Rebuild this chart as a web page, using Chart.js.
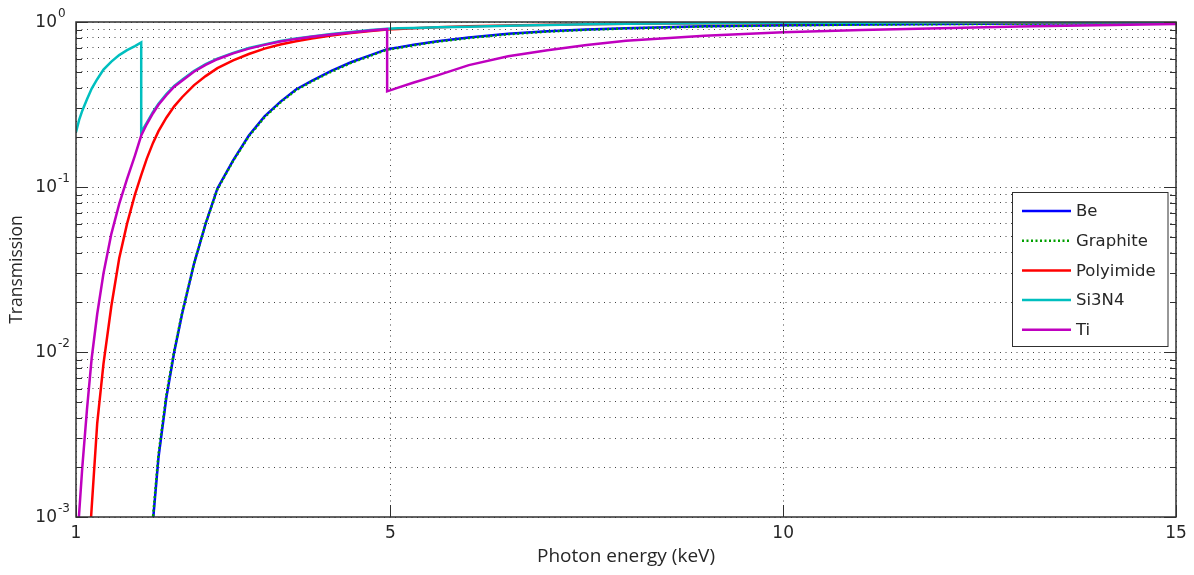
<!DOCTYPE html>
<html>
<head>
<meta charset="utf-8">
<title>Transmission vs photon energy</title>
<script src="https://cdn.jsdelivr.net/npm/chart.js@4.4.1/dist/chart.umd.min.js"></script>
<style>
    html, body { margin: 0; padding: 0; background: #fff; }
    #wrap { position: relative; width: 1194px; height: 575px; }
</style>
</head>
<body>
<div id="wrap"><canvas id="chart"></canvas></div>
<script>
// photon energy (keV); the edges (Si K at ~1.83, Ti K at ~4.96) appear twice
const energy = [1.0, 1.04, 1.08, 1.14, 1.2, 1.27, 1.35, 1.45, 1.55, 1.65,
    1.75, 1.83, 1.83, 1.9, 1.98, 2.05, 2.15, 2.25, 2.35, 2.5,
    2.65, 2.8, 3.0, 3.2, 3.4, 3.6, 3.8, 4.0, 4.25, 4.5,
    4.75, 4.96, 4.96, 5.1, 5.3, 5.6, 6.0, 6.5, 7.0, 7.5,
    8.0, 9.0, 10, 11, 12, 13, 14, 15];

const be = [null, null, null, null, null, null, null, null, null, null,
    null, null, null, 0.0004, 0.00095, 0.0023, 0.0053, 0.01, 0.017, 0.034,
    0.06, 0.098, 0.145, 0.205, 0.268, 0.328, 0.39, 0.44, 0.505, 0.57,
    0.63, 0.685, 0.685, 0.70, 0.728, 0.765, 0.805, 0.848, 0.878, 0.9,
    0.918, 0.942, 0.956, 0.966, 0.973, 0.978, 0.982, 0.985];

const graphite = [null, null, null, null, null, null, null, null, null, null,
    null, null, null, 0.00045, 0.001, 0.0024, 0.0055, 0.0102, 0.0172, 0.034,
    0.06, 0.097, 0.144, 0.203, 0.265, 0.325, 0.386, 0.436, 0.5, 0.565,
    0.625, 0.68, 0.68, 0.695, 0.723, 0.76, 0.8, 0.843, 0.874, 0.896,
    0.914, 0.939, 0.953, 0.964, 0.971, 0.976, 0.98, 0.983];

const polyimide = [null, null, null, 0.0004, 0.00115, 0.0037, 0.0085, 0.019, 0.037, 0.06,
    0.09, 0.118, 0.118, 0.148, 0.185, 0.218, 0.263, 0.308, 0.35, 0.413,
    0.47, 0.525, 0.585, 0.64, 0.69, 0.73, 0.765, 0.795, 0.828, 0.857,
    0.882, 0.9, 0.9, 0.908, 0.918, 0.93, 0.942, 0.953, 0.962, 0.97,
    0.975, 0.982, 0.987, 0.99, 0.992, 0.994, 0.995, 0.996];

const si3n4 = [0.215, 0.255, 0.29, 0.34, 0.395, 0.45, 0.515, 0.575, 0.63, 0.675,
    0.715, 0.752, 0.215, 0.245, 0.285, 0.32, 0.366, 0.41, 0.447, 0.505,
    0.555, 0.60, 0.65, 0.695, 0.732, 0.766, 0.795, 0.818, 0.845, 0.87,
    0.893, 0.91, 0.91, 0.915, 0.92, 0.928, 0.937, 0.95, 0.96, 0.968,
    0.975, 0.983, 0.988, 0.991, 0.993, 0.995, 0.996, 0.997];

const ti = [0.00055, 0.00105, 0.002, 0.0045, 0.0092, 0.017, 0.03, 0.052, 0.079, 0.112,
    0.155, 0.205, 0.205, 0.24, 0.28, 0.315, 0.36, 0.405, 0.44, 0.50,
    0.55, 0.595, 0.645, 0.69, 0.727, 0.762, 0.79, 0.813, 0.84, 0.865,
    0.888, 0.905, 0.38, 0.40, 0.43, 0.475, 0.548, 0.62, 0.675, 0.725,
    0.77, 0.826, 0.866, 0.895, 0.918, 0.94, 0.957, 0.972];

const xTicks = [1, 5, 10, 15];
const yDecades = [0.001, 0.01, 0.1, 1];
const yDecadeExp = ['-3', '-2', '-1', '0'];

// every 1..9 x 10^n between the decades, for the dotted grid
const yGrid = [];
yDecades.forEach((d, i) => {
    if (i === yDecades.length - 1) { yGrid.push(d); return; }
    for (let m = 1; m < 10; m++) yGrid.push(d * m);
});

function toPoints(values) {
    return energy.map((e, i) => ({ x: e, y: values[i] }));
}

const textColor = '#262626';
const tickFont = 'DejaVu Sans';

const framePlugin = {
    id: 'frame',
    afterDraw(chart) {
        const { ctx, chartArea: a, scales: { x, y } } = chart;
        ctx.save();

        // inward tick marks on all four sides
        ctx.strokeStyle = '#303030';
        ctx.lineWidth = 1;
        ctx.beginPath();
        yGrid.forEach(v => {
            const py = Math.round(y.getPixelForValue(v)) + 0.5;
            const len = yDecades.includes(v) ? 12 : 6;
            ctx.moveTo(a.left, py); ctx.lineTo(a.left + len, py);
            ctx.moveTo(a.right, py); ctx.lineTo(a.right - len, py);
        });
        xTicks.forEach(v => {
            const px = Math.round(x.getPixelForValue(v)) + 0.5;
            ctx.moveTo(px, a.bottom); ctx.lineTo(px, a.bottom - 12);
            ctx.moveTo(px, a.top); ctx.lineTo(px, a.top + 12);
        });
        ctx.stroke();

        // axes box
        ctx.lineWidth = 1.5;
        ctx.strokeStyle = '#303030';
        ctx.strokeRect(a.left, a.top, a.right - a.left, a.bottom - a.top);

        // y labels as 10 with a raised exponent
        ctx.fillStyle = textColor;
        yDecades.forEach((v, i) => {
            const py = y.getPixelForValue(v);
            ctx.font = '17px "' + tickFont + '"';
            ctx.textAlign = 'right';
            ctx.textBaseline = 'middle';
            ctx.fillText('10', 57, py + 1);
            ctx.font = '12px "' + tickFont + '"';
            ctx.textAlign = 'left';
            ctx.textBaseline = 'alphabetic';
            ctx.fillText(yDecadeExp[i], 58, py - 5);
        });

        // legend box inside the plot
        const lx = 1012.5, ly = 192.5, lw = 155.5, lh = 154;
        ctx.fillStyle = '#fff';
        ctx.fillRect(lx, ly, lw, lh);
        ctx.lineWidth = 1;
        ctx.strokeStyle = '#303030';
        ctx.strokeRect(lx, ly, lw, lh);
        chart.data.datasets.forEach((ds, i) => {
            const rowY = 211 + i * 29.7;
            ctx.beginPath();
            ctx.strokeStyle = ds.borderColor;
            ctx.lineWidth = ds.borderWidth;
            ctx.setLineDash(ds.borderDash || []);
            ctx.moveTo(1022, rowY); ctx.lineTo(1071, rowY);
            ctx.stroke();
            ctx.setLineDash([]);
            ctx.fillStyle = textColor;
            ctx.font = '16.5px "' + tickFont + '"';
            ctx.textAlign = 'left';
            ctx.textBaseline = 'middle';
            ctx.fillText(ds.label, 1076, rowY + 1);
        });

        ctx.restore();
    }
};

const ctx = document.getElementById('chart').getContext('2d');
new Chart(ctx, {
    type: 'line',
    data: {
        datasets: [
            { label: 'Be', data: toPoints(be), borderColor: '#0000ff', borderWidth: 2.5, order: 5 },
            { label: 'Graphite', data: toPoints(graphite), borderColor: '#00a000', borderWidth: 2.5, borderDash: [2, 2.5], order: 4 },
            { label: 'Polyimide', data: toPoints(polyimide), borderColor: '#ff0000', borderWidth: 2.5, order: 3 },
            { label: 'Si3N4', data: toPoints(si3n4), borderColor: '#00bfbf', borderWidth: 2.5, order: 2 },
            { label: 'Ti', data: toPoints(ti), borderColor: '#bf00bf', borderWidth: 2.5, order: 1 }
        ]
    },
    options: {
        responsive: true,
        maintainAspectRatio: false,
        animation: false,
        events: [],
        layout: { padding: { left: 0, top: 22, right: 18, bottom: 0 } },
        elements: {
            point: { radius: 0 },
            line: { tension: 0, fill: false, borderCapStyle: 'butt' }
        },
        plugins: {
            legend: { display: false },
            tooltip: { enabled: false }
        },
        scales: {
            x: {
                type: 'linear',
                min: 1,
                max: 15,
                afterBuildTicks: s => { s.ticks = xTicks.map(v => ({ value: v })); },
                afterFit: s => { s.height = 58; },
                grid: { color: '#444', lineWidth: 1, drawTicks: false },
                border: { display: false, dash: [1, 4.5] },
                ticks: {
                    autoSkip: false,
                    maxRotation: 0,
                    padding: 6,
                    color: textColor,
                    font: { family: tickFont, size: 17 }
                },
                title: {
                    display: true,
                    text: 'Photon energy (keV)',
                    color: textColor,
                    font: { family: 'Open Sans', size: 19 },
                    padding: { top: 0, bottom: 7 }
                }
            },
            y: {
                type: 'logarithmic',
                min: 0.001,
                max: 1,
                afterBuildTicks: s => { s.ticks = yGrid.map(v => ({ value: v })); },
                afterFit: s => { s.width = 76; },
                grid: { color: '#444', lineWidth: 1, drawTicks: false },
                border: { display: false, dash: [1, 4.5] },
                ticks: { display: false },
                title: {
                    display: true,
                    text: 'Transmission',
                    color: textColor,
                    font: { family: 'Open Sans', size: 17.5 },
                    padding: { top: 7, bottom: 0 }
                }
            }
        }
    },
    plugins: [framePlugin]
});
</script>
</body>
</html>
